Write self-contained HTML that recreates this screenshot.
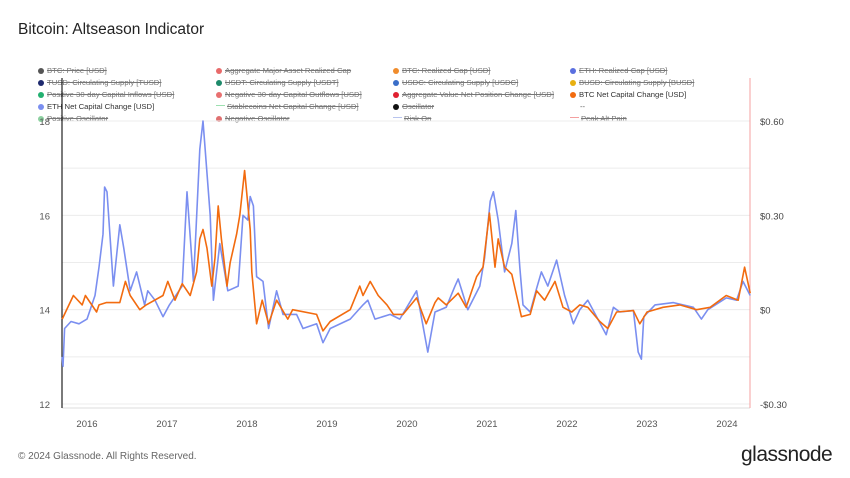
<!DOCTYPE html>
<html><head><meta charset="utf-8"><style>
body{margin:0;background:#fff;font-family:"Liberation Sans",sans-serif;}
#wrap{position:relative;width:850px;height:478px;overflow:hidden;}
.t{position:absolute;white-space:nowrap;}
.lg{position:absolute;font-size:7.7px;color:#777;text-decoration:line-through;white-space:nowrap;}
.lg.on{text-decoration:none;color:#333;}
.dot{display:inline-block;width:6px;height:6px;border-radius:50%;margin-right:3px;vertical-align:-0.5px;}
.ln{display:inline-block;width:9px;height:1px;margin-right:2px;vertical-align:3px;}
</style></head><body>
<div id="wrap">
<div class="t" style="left:18px;top:21px;font-size:15.5px;color:#222;">Bitcoin: Altseason Indicator</div>
<div id="legend">
<div class="lg" style="left:38px;top:66px"><span class="dot" style="background:#555"></span>BTC: Price [USD]</div>
<div class="lg" style="left:216px;top:66px"><span class="dot" style="background:#e86a6a"></span>Aggregate Major Asset Realized Cap</div>
<div class="lg" style="left:393px;top:66px"><span class="dot" style="background:#f08c2c"></span>BTC: Realized Cap [USD]</div>
<div class="lg" style="left:570px;top:66px"><span class="dot" style="background:#5a6fe0"></span>ETH: Realized Cap [USD]</div>
<div class="lg" style="left:38px;top:78px"><span class="dot" style="background:#1e2a6e"></span>TUSD: Circulating Supply [TUSD]</div>
<div class="lg" style="left:216px;top:78px"><span class="dot" style="background:#1d8a6a"></span>USDT: Circulating Supply [USDT]</div>
<div class="lg" style="left:393px;top:78px"><span class="dot" style="background:#3a6ec8"></span>USDC: Circulating Supply [USDC]</div>
<div class="lg" style="left:570px;top:78px"><span class="dot" style="background:#e8b010"></span>BUSD: Circulating Supply [BUSD]</div>
<div class="lg" style="left:38px;top:90px"><span class="dot" style="background:#22b070"></span>Positive 30-day Capital Inflows [USD]</div>
<div class="lg" style="left:216px;top:90px"><span class="dot" style="background:#e87070"></span>Negative 30-day Capital Outflows [USD]</div>
<div class="lg" style="left:393px;top:90px"><span class="dot" style="background:#e02030"></span>Aggregate Value Net Position Change [USD]</div>
<div class="lg on" style="left:570px;top:90px"><span class="dot" style="background:#f26b0f"></span>BTC Net Capital Change [USD]</div>
<div class="lg on" style="left:38px;top:102px"><span class="dot" style="background:#7b8ff0"></span>ETH Net Capital Change [USD]</div>
<div class="lg" style="left:216px;top:102px"><span class="ln" style="background:#9ce0b0"></span>Stablecoins Net Capital Change [USD]</div>
<div class="lg" style="left:393px;top:102px"><span class="dot" style="background:#111"></span>Oscillator</div>
<div class="lg on" style="left:580px;top:102px;color:#555">--</div>
<div class="lg" style="left:38px;top:114px"><span class="dot" style="background:#8cd0a0"></span>Positive Oscillator</div>
<div class="lg" style="left:216px;top:114px"><span class="dot" style="background:#e07070"></span>Negative Oscillator</div>
<div class="lg" style="left:393px;top:114px"><span class="ln" style="background:#b8c4ee"></span>Risk On</div>
<div class="lg" style="left:570px;top:114px"><span class="ln" style="background:#f4a0a0"></span>Peak Alt Pain</div>
</div>
<svg id="chart" width="850" height="478" style="position:absolute;left:0;top:0"></svg>
<div class="t" style="left:18px;top:451px;font-size:10px;color:#666;">© 2024 Glassnode. All Rights Reserved.</div>
<div class="t" style="left:741px;top:443px;font-size:21px;color:#222;letter-spacing:-0.5px;">glassnode</div>
</div>
<script>
const yearTicks = [2016,2017,2018,2019,2020,2021,2022,2023,2024];
const leftTicks = [12,14,16,18];
const rightTickLabels = ["$0.60","$0.30","$0","-$0.30"];
const rightTickValues = [0.6,0.3,0,-0.3];
const ethDates = [2015.69,2015.7,2015.72,2015.8,2015.9,2016.0,2016.1,2016.15,2016.2,2016.22,2016.25,2016.33,2016.41,2016.46,2016.54,2016.62,2016.72,2016.76,2016.85,2016.95,2017.03,2017.19,2017.25,2017.33,2017.36,2017.41,2017.45,2017.54,2017.58,2017.66,2017.76,2017.89,2017.95,2018.01,2018.04,2018.08,2018.12,2018.2,2018.27,2018.37,2018.45,2018.62,2018.7,2018.87,2018.95,2019.04,2019.29,2019.45,2019.51,2019.6,2019.79,2019.91,2020.12,2020.26,2020.35,2020.49,2020.6,2020.64,2020.76,2020.91,2020.97,2021.04,2021.08,2021.14,2021.22,2021.31,2021.36,2021.41,2021.45,2021.54,2021.62,2021.68,2021.76,2021.87,2021.97,2022.08,2022.16,2022.26,2022.37,2022.49,2022.58,2022.66,2022.83,2022.89,2022.93,2022.96,2023.1,2023.33,2023.58,2023.68,2023.76,2023.99,2024.12,2024.2,2024.29];
const ethValues = [13.0,12.8,13.6,13.75,13.7,13.8,14.3,14.9,15.6,16.6,16.5,14.5,15.8,15.3,14.4,14.8,14.1,14.4,14.2,13.85,14.1,14.5,16.5,14.6,15.6,17.4,18.0,16.0,14.2,15.4,14.4,14.5,16.0,15.9,16.4,16.2,14.7,14.6,13.6,14.4,13.9,13.9,13.6,13.7,13.3,13.6,13.8,14.1,14.2,13.8,13.9,13.8,14.4,13.1,13.95,14.05,14.5,14.65,14.0,14.5,15.1,16.3,16.5,15.9,14.8,15.4,16.1,14.9,14.1,13.95,14.45,14.8,14.5,15.05,14.3,13.7,14.0,14.2,13.85,13.47,14.05,13.95,13.98,13.1,12.95,13.85,14.1,14.15,14.05,13.8,14.0,14.25,14.2,14.6,14.3];
const btcDates = [2015.69,2015.83,2015.94,2015.98,2016.12,2016.15,2016.24,2016.41,2016.48,2016.54,2016.66,2016.74,2016.95,2017.01,2017.1,2017.19,2017.29,2017.37,2017.41,2017.45,2017.5,2017.56,2017.6,2017.64,2017.68,2017.75,2017.79,2017.87,2017.91,2017.97,2018.04,2018.06,2018.12,2018.19,2018.27,2018.37,2018.51,2018.57,2018.87,2018.95,2019.04,2019.29,2019.41,2019.45,2019.54,2019.64,2019.75,2019.83,2019.95,2020.12,2020.24,2020.35,2020.39,2020.49,2020.64,2020.74,2020.87,2020.95,2021.03,2021.1,2021.14,2021.22,2021.31,2021.37,2021.43,2021.54,2021.62,2021.72,2021.85,2021.95,2022.06,2022.16,2022.26,2022.41,2022.51,2022.62,2022.83,2022.91,2023.0,2023.2,2023.41,2023.62,2023.79,2023.99,2024.14,2024.22,2024.29];
const btcValues = [13.8,14.3,14.1,14.3,13.95,14.1,14.15,14.15,14.6,14.3,14.0,14.1,14.3,14.6,14.2,14.55,14.3,14.8,15.5,15.7,15.3,14.5,15.1,16.2,15.5,14.5,15.0,15.6,16.0,16.95,15.7,14.8,13.7,14.2,13.7,14.2,13.8,14.0,13.9,13.55,13.75,14.0,14.5,14.3,14.6,14.3,14.1,13.9,13.9,14.25,13.7,14.15,14.25,14.1,14.35,14.05,14.7,14.9,16.05,14.9,15.5,14.9,14.75,14.3,13.85,13.9,14.4,14.2,14.6,14.05,13.95,14.1,14.05,13.75,13.6,13.95,13.98,13.7,13.95,14.05,14.1,14.0,14.05,14.3,14.2,14.9,14.35];

const NS='http://www.w3.org/2000/svg';
const svg=document.getElementById('chart');
const X0=62,X1=750,Y12=404,Y18=121;
const xScale=d=>87+(d-2016)*80;
const yScale=v=>Y12-(v-12)*(Y12-Y18)/6;
const yRight=v=>yScale(14+v/0.15);
function mk(tag,attrs){const e=document.createElementNS(NS,tag);for(const k in attrs)e.setAttribute(k,attrs[k]);svg.appendChild(e);return e;}
for(let v=12;v<=18;v++){
  const g=mk('line',{x1:X0,x2:X1,y1:yScale(v),y2:yScale(v),stroke:'#ececec','stroke-width':1});
  
  
}
leftTicks.forEach(v=>{
  const t=mk('text',{x:50,y:yScale(v)+4,'text-anchor':'end','font-size':9.5,fill:'#555','font-family':'Liberation Sans'});
  t.textContent=v;
  
  
});
rightTickValues.forEach((v,i)=>{
  const t=mk('text',{x:760,y:yRight(v)+4,'font-size':9.5,fill:'#444','font-family':'Liberation Sans'});
  t.textContent=rightTickLabels[i];
  
  
});
yearTicks.forEach(y=>{
  const t=mk('text',{x:xScale(y),y:427,'text-anchor':'middle','font-size':9.5,fill:'#555','font-family':'Liberation Sans'});
  t.textContent=y;
  
  
});
const base=mk('line',{x1:X0,x2:X1,y1:408,y2:408,stroke:'#ddd'});


const la=mk('line',{x1:X0,x2:X0,y1:78,y2:408,stroke:'#222','stroke-width':1.2});


const pk=mk('line',{x1:750,x2:750,y1:78,y2:408,stroke:'#f4a0a0','stroke-width':1});


function line(d,v,color,name){
  const p=mk('polyline',{points:d.map((x,i)=>xScale(x).toFixed(1)+','+yScale(v[i]).toFixed(1)).join(' '),fill:'none',stroke:color,'stroke-width':1.6,'stroke-linejoin':'round'});
  
  
}
line(ethDates,ethValues,'#7b8ff0','eth-net-capital-change-line');
line(btcDates,btcValues,'#f26b0f','btc-net-capital-change-line');
</script>
</body></html>
